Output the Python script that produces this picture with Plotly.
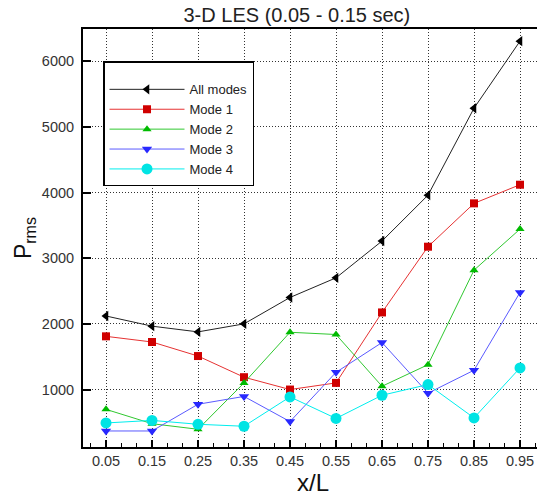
import plotly.graph_objects as go

x_pos = [0.05, 0.15, 0.25, 0.35, 0.45, 0.55, 0.65, 0.75, 0.85, 0.95]
x_ticklabels = ["0.05", "0.15", "0.25", "0.35", "0.45", "0.55", "0.65", "0.75", "0.85", "0.95"]
x_minor = [0.0167, 0.0833, 0.1167, 0.1833, 0.2167, 0.2833, 0.3167, 0.3833, 0.4167,
           0.4833, 0.5167, 0.5833, 0.6167, 0.6833, 0.7167, 0.7833, 0.8167, 0.8833,
           0.9167, 0.9833]
y_ticks = [1000, 2000, 3000, 4000, 5000, 6000]

all_modes = [2120, 1965, 1878, 2000, 2402, 2701, 3261, 3960, 5284, 6305]
mode1 = [1810, 1724, 1510, 1188, 1000, 1101, 2174, 3175, 3835, 4119]
mode2 = [698, 480, 395, 1101, 1872, 1838, 1050, 1378, 2818, 3443]
mode3 = [369, 369, 776, 895, 512, 1262, 1716, 945, 1294, 2479]
mode4 = [491, 530, 471, 441, 888, 560, 913, 1076, 568, 1329]

series = [
    ("All modes", all_modes, "#222222", "#000000", "triangle-left", 9),
    ("Mode 1", mode1, "#e63232", "#d00000", "square", 8),
    ("Mode 2", mode2, "#30c830", "#00bb00", "triangle-up", 8),
    ("Mode 3", mode3, "#5a5aff", "#2828ff", "triangle-down", 9),
    ("Mode 4", mode4, "#00eeee", "#00e4e4", "circle", 11),
]

fig = go.Figure()
for name, vals, lc, mc, sym, sz in series:
    fig.add_trace(go.Scatter(
        x=x_pos, y=vals, name=name, mode="lines+markers",
        line=dict(color=lc, width=1),
        marker=dict(symbol=sym, size=sz, color=mc, line=dict(width=0)),
    ))

font_family = "Liberation Sans, Arial, sans-serif"

fig.update_layout(
    width=545, height=492,
    margin=dict(l=75, r=10, t=21, b=53),
    paper_bgcolor="white", plot_bgcolor="white",
    font=dict(family=font_family, color="#222222"),
    title=dict(text="3-D LES (0.05 - 0.15 sec)", font=dict(size=20, color="#222222"),
               xref="paper", x=0.465, xanchor="center",
               yref="container", y=0.986, yanchor="middle"),
    legend=dict(x=0.0435, y=0.923, xanchor="left", yanchor="top",
                bgcolor="white", bordercolor="black", borderwidth=1.5,
                font=dict(size=13, color="#222222"), itemwidth=75,
                title=dict(text=" ", font=dict(size=9))),
    showlegend=True,
)

fig.update_xaxes(
    range=[0, 1], tickmode="array", tickvals=x_pos, ticktext=x_ticklabels,
    ticks="inside", ticklen=7, tickwidth=2, tickcolor="black",
    tickfont=dict(size=14.5, color="#333333"),
    showline=True, linecolor="black", linewidth=2, mirror=True,
    showgrid=True, gridcolor="#333333", gridwidth=1, griddash="1px,2px",
    zeroline=False, automargin=False,
    minor=dict(tickmode="array", tickvals=x_minor, ticks="inside", ticklen=4,
               tickwidth=1, tickcolor="black", showgrid=False),
    title=dict(text="x/L", font=dict(size=24, color="#111111"), standoff=4),
)
fig.update_yaxes(
    range=[125, 6490], tickmode="array", tickvals=y_ticks,
    ticks="inside", ticklen=8, tickwidth=2, tickcolor="black",
    tickfont=dict(size=14.5, color="#333333"), ticklabelstandoff=4,
    showline=True, linecolor="black", linewidth=2, mirror=True,
    showgrid=True, gridcolor="#333333", gridwidth=1, griddash="1px,2px",
    zeroline=False, automargin=False,
    title=dict(text="P<sub>rms</sub>", font=dict(size=23, color="#111111"), standoff=4),
)

fig.write_html("out.html")
